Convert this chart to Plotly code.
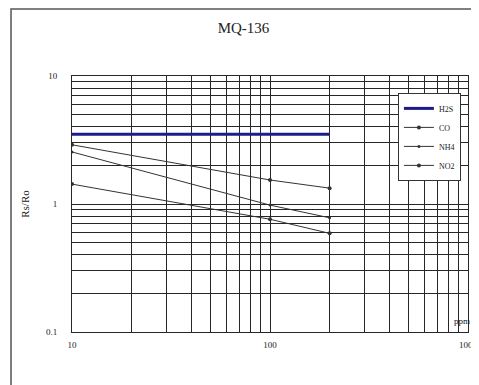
import plotly.graph_objects as go

# Data (log-log sensitivity curves)
concentration = [10, 100, 200]          # ppm
h2s_x = [10, 200]
h2s_y = [3.5, 3.5]
co_y = [2.9, 1.54, 1.33]
nh4_y = [2.55, 0.98, 0.78]
no2_y = [1.43, 0.76, 0.59]

x_tickvals = [v * m for m in (10, 100) for v in range(1, 10)] + [1000]
x_ticktext = ["10" if v == 10 else "100" if v == 100 else "1000" if v == 1000 else "" for v in x_tickvals]
y_tickvals = [round(v * m, 3) for m in (0.1, 1) for v in range(1, 10)] + [10]
y_ticktext = ["0.1" if v == 0.1 else "1" if v == 1 else "10" if v == 10 else "" for v in y_tickvals]

font = "Liberation Serif"
line_col = "#333333"
grid_col = "#262626"

fig = go.Figure()
fig.add_trace(go.Scatter(x=h2s_x, y=h2s_y, mode="lines", name="H2S",
                         line=dict(color="#1c1c8a", width=3)))
fig.add_trace(go.Scatter(x=concentration, y=co_y, mode="lines+markers", name="CO",
                         line=dict(color=line_col, width=1), marker=dict(size=4, color=line_col)))
fig.add_trace(go.Scatter(x=concentration, y=nh4_y, mode="lines+markers", name="NH4",
                         line=dict(color=line_col, width=1), marker=dict(size=3, color=line_col)))
fig.add_trace(go.Scatter(x=concentration, y=no2_y, mode="lines+markers", name="NO2",
                         line=dict(color=line_col, width=1), marker=dict(size=4, color=line_col)))

W, H = 471, 377
fig.update_layout(
    width=W, height=H,
    margin=dict(l=64, r=11, t=68, b=53),
    paper_bgcolor="white", plot_bgcolor="white",
    font=dict(family=font, size=9, color="#222"),
    title=dict(text="MQ-136", x=0.5, xanchor="center", y=1 - 20 / H, yanchor="middle",
               font=dict(family=font, size=15, color="#222")),
    showlegend=True,
    legend=dict(x=0.823, y=0.934, xanchor="left", yanchor="top",
                bgcolor="white", bordercolor="#333", borderwidth=1,
                font=dict(family=font, size=8), itemwidth=30, tracegroupgap=0),
    xaxis=dict(type="log", range=[1, 3], tickvals=x_tickvals, ticktext=x_ticktext,
               showgrid=True, gridcolor=grid_col, gridwidth=1,
               showline=True, linecolor=grid_col, linewidth=1, mirror=True,
               ticks="", ticklabelstandoff=4, zeroline=False, automargin=False,
               tickfont=dict(family=font, size=9)),
    yaxis=dict(type="log", range=[-1, 1], tickvals=y_tickvals, ticktext=y_ticktext,
               showgrid=True, gridcolor=grid_col, gridwidth=1,
               showline=True, linecolor=grid_col, linewidth=1, mirror=True,
               ticks="", ticklabelstandoff=12, zeroline=False, automargin=False,
               title=dict(text="Rs/Ro", font=dict(family=font, size=11), standoff=14),
               tickfont=dict(family=font, size=9)),
    annotations=[dict(text="ppm", xref="paper", yref="paper", x=1.0, y=0.0,
                      xanchor="right", yanchor="bottom", showarrow=False, yshift=4, xshift=4,
                      font=dict(family=font, size=9, color="#111111"))],
    shapes=[dict(type="rect", xref="paper", yref="paper",
                 x0=-0.154, x1=1.1, y0=-0.3, y1=1.262,
                 line=dict(color="#555", width=1.5), layer="below")],
)

fig.write_html("out.html")
